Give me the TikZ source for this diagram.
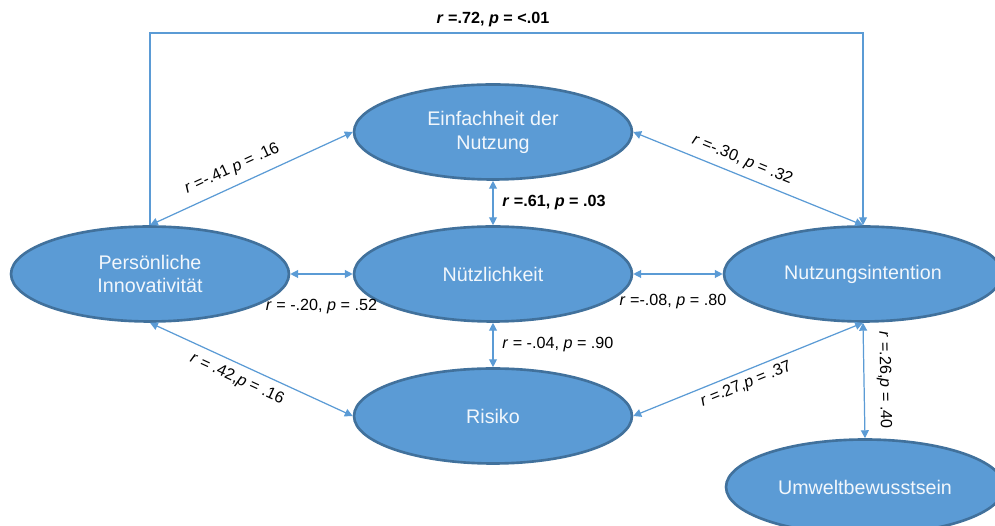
\documentclass[tikz,border=0pt]{standalone}
\usepackage{fontspec}
\setmainfont{Liberation Sans}
\usetikzlibrary{shapes.geometric, arrows.meta, positioning}
\definecolor{latentfill}{HTML}{5B9BD5}
\definecolor{latentdraw}{HTML}{41719C}
\definecolor{pathblue}{HTML}{5B9BD5}
\tikzset{
  latent/.style = {ellipse, draw=latentdraw, fill=latentfill, line width=1.5pt,
                   minimum width=5.56cm, minimum height=1.9cm, align=center,
                   text=white!92!latentfill, font=\fontsize{11.2}{13.6}\selectfont},
  corr/.style   = {{Triangle[length=4.5pt,width=4.5pt]}-{Triangle[length=4.5pt,width=4.5pt]},
                   draw=pathblue, line width=0.7pt},
  oneway/.style = {-{Triangle[length=4.5pt,width=4.5pt]}, draw=pathblue, line width=0.7pt},
  coef/.style   = {font=\fontsize{9.2}{11}\selectfont, text=black, inner sep=2pt},
}
\newcommand{\rp}[2]{\textit{r} #1\textit{p} #2}

\begin{document}
\begin{tikzpicture}[x=0.02cm, y=-0.02cm]
  \useasboundingbox (0,0) rectangle (995,526);
  \clip (0,0) rectangle (995,526);
  % constructs
  \node[latent] (pi)  at (150,274) {Persönliche\\Innovativität};
  \node[latent] (ein) at (493,132) {Einfachheit der\\Nutzung};
  \node[latent] (nue) at (493,274) {Nützlichkeit};
  \node[latent] (ni)  at (863,274) {Nutzungsintention};
  \node[latent] (ris) at (493,416) {Risiko};
  \node[latent] (uw)  at (865,487) {Umweltbewusstsein};
  \coordinate (topbar) at (493,33);
  % correlations
  \draw[oneway] (pi.north) |- (topbar)
        node[coef, above=1pt] {\bfseries\rp{=.72, }{= <.01}} -| (ni.north);
  \draw[corr] (pi.north) -- (ein.west)
        node[coef, sloped, above=3pt, pos=0.44] {\rp{=-.41 }{= .16}};
  \draw[corr] (ein.east) -- (ni.north)
        node[coef, sloped, above=2pt, pos=0.45] {\rp{=-.30, }{= .32}};
  \draw[corr] (ein.south) -- (nue.north)
        node[coef, right=3pt, midway] {\bfseries\rp{=.61, }{= .03}};
  \draw[corr] (pi.east) -- (nue.west)
        node[coef, midway, yshift=-0.66cm] {\rp{= -.20, }{= .52}};
  \draw[corr] (nue.east) -- (ni.west)
        node[coef, midway, yshift=-0.56cm, xshift=-0.1cm] {\rp{=-.08, }{= .80}};
  \draw[corr] (nue.south) -- (ris.north)
        node[coef, right=3pt, midway] {\rp{= -.04, }{= .90}};
  \draw[corr] (pi.south) -- (ris.west)
        node[coef, sloped, below=2pt, pos=0.46] {\rp{= .42,}{= .16}};
  \draw[corr] (ris.east) -- (ni.south)
        node[coef, sloped, below=1pt, pos=0.47] {\rp{=.27,}{= .37}};
  \draw[corr] (ni.south) -- (uw.north)
        node[coef, sloped, above=5pt, midway] {\rp{=.26,}{= .40}};
\end{tikzpicture}
\end{document}
